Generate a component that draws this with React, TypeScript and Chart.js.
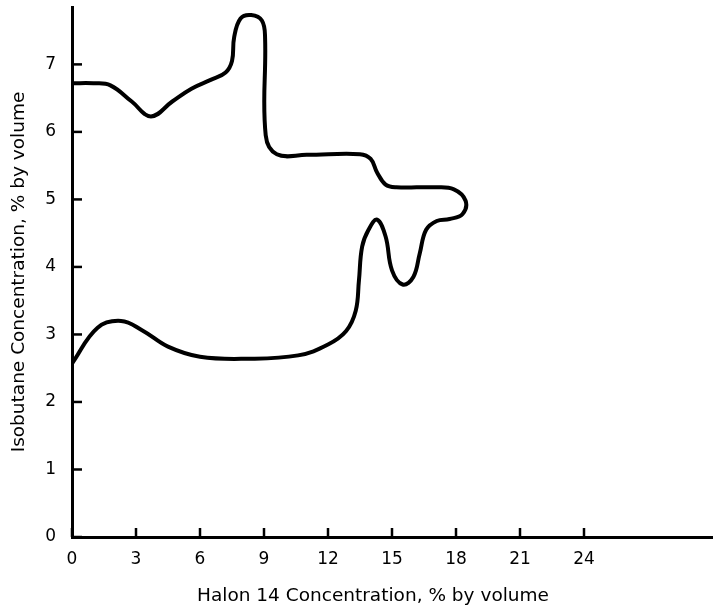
import React, { useEffect, useRef } from "react";
import { Chart, registerables } from "chart.js";

Chart.register(...registerables);

const xTicks = [0, 3, 6, 9, 12, 15, 18, 21, 24];
const yTicks = [0, 1, 2, 3, 4, 5, 6, 7];

// Boundary curve, traced in order (upper branch left→right, then back along lower branch)
const halonX = [
  0, 1.0, 1.8, 2.8, 3.7, 4.7, 5.6, 6.5, 7.2, 7.5, 7.6, 7.9, 8.4, 8.9, 9.05, 9.08, 9.6,
  11.0, 13.5, 14.0, 14.3, 14.7, 15.2, 17.0, 17.9, 18.45, 18.3, 17.7, 17.1, 16.6, 16.3, 16.0,
  15.5, 15.0, 14.7, 14.3, 13.9, 13.6, 13.45, 13.3, 12.85, 12.0, 10.6, 8.2, 6.0, 4.5, 3.3, 2.3,
  1.2, 0,
];
const isobutaneY = [
  6.72, 6.72, 6.69, 6.45, 6.23, 6.45, 6.64, 6.77, 6.88, 7.05, 7.4, 7.68, 7.73, 7.65, 7.4,
  5.95, 5.67, 5.66, 5.67, 5.6, 5.4, 5.22, 5.18, 5.18, 5.15, 4.98, 4.78, 4.71, 4.68, 4.55, 4.2,
  3.85, 3.74, 3.95, 4.45, 4.7, 4.55, 4.3, 3.8, 3.35, 3.05, 2.85, 2.69, 2.64, 2.67, 2.82, 3.06,
  3.2, 3.1, 2.57,
];

const xTitle = "Halon 14 Concentration, % by volume";
const yTitle = "Isobutane Concentration, % by volume";

const FONT = "'DejaVu Sans', sans-serif";

const inwardTicks = {
  id: "inwardTicks",
  afterDraw(chart: any) {
    const { ctx, chartArea, scales } = chart;
    const x = scales.x;
    const y = scales.y;
    ctx.save();
    ctx.strokeStyle = "#000";
    ctx.lineWidth = 2.5;
    xTicks.forEach((v) => {
      const px = x.getPixelForValue(v);
      ctx.beginPath();
      ctx.moveTo(px, chartArea.bottom);
      ctx.lineTo(px, chartArea.bottom - 9);
      ctx.stroke();
    });
    yTicks.forEach((v) => {
      const py = y.getPixelForValue(v);
      ctx.beginPath();
      ctx.moveTo(chartArea.left, py);
      ctx.lineTo(chartArea.left + 10, py);
      ctx.stroke();
    });
    ctx.fillStyle = "#000";
    ctx.font = `18.5px ${FONT}`;
    ctx.textAlign = "center";
    ctx.textBaseline = "middle";
    ctx.fillText(xTitle, chartArea.left + 301, chartArea.bottom + 59);
    ctx.restore();
  },
};

export default function App() {
  const ref = useRef<HTMLCanvasElement | null>(null);

  useEffect(() => {
    if (!ref.current) return;
    const data = halonX.map((xv, i) => ({ x: xv, y: isobutaneY[i] }));
    const chart = new Chart(ref.current, {
      type: "scatter",
      data: {
        datasets: [
          {
            data,
            showLine: true,
            borderColor: "#000",
            borderWidth: 4,
            tension: 0.4,
            pointRadius: 0,
            borderCapStyle: "round",
            borderJoinStyle: "round",
            fill: false,
          } as any,
        ],
      },
      options: {
        animation: false,
        responsive: true,
        maintainAspectRatio: false,
        layout: { padding: { top: 7, right: 3, left: 0, bottom: 0 } },
        plugins: { legend: { display: false }, tooltip: { enabled: false } },
        scales: {
          x: {
            type: "linear",
            min: 0,
            max: 30,
            grid: { display: false, drawTicks: false },
            border: { display: true, color: "#000", width: 3 },
            ticks: {
              color: "#000",
              font: { family: FONT, size: 17 },
              padding: 12,
            },
            afterBuildTicks: (scale: any) => {
              scale.ticks = xTicks.map((v) => ({ value: v }));
            },
            afterFit: (scale: any) => {
              scale.height = 74;
              scale.paddingLeft = 0;
              scale.paddingRight = 0;
            },
          },
          y: {
            type: "linear",
            min: 0,
            max: 7.85,
            grid: { display: false, drawTicks: false },
            border: { display: true, color: "#000", width: 3 },
            ticks: {
              color: "#000",
              font: { family: FONT, size: 17 },
              padding: 16,
            },
            title: {
              display: true,
              text: yTitle,
              color: "#000",
              font: { family: FONT, size: 18.5 },
              padding: { top: 8, bottom: 0 },
            },
            afterBuildTicks: (scale: any) => {
              scale.ticks = yTicks.map((v) => ({ value: v }));
            },
            afterFit: (scale: any) => {
              scale.width = 72;
              scale.paddingTop = 0;
              scale.paddingBottom = 0;
            },
          },
        },
      },
      plugins: [inwardTicks],
    });
    return () => chart.destroy();
  }, []);

  return (
    <div style={{ position: "absolute", left: 0, top: 0, width: 715, height: 611, background: "#fff" }}>
      <canvas ref={ref} />
    </div>
  );
}
